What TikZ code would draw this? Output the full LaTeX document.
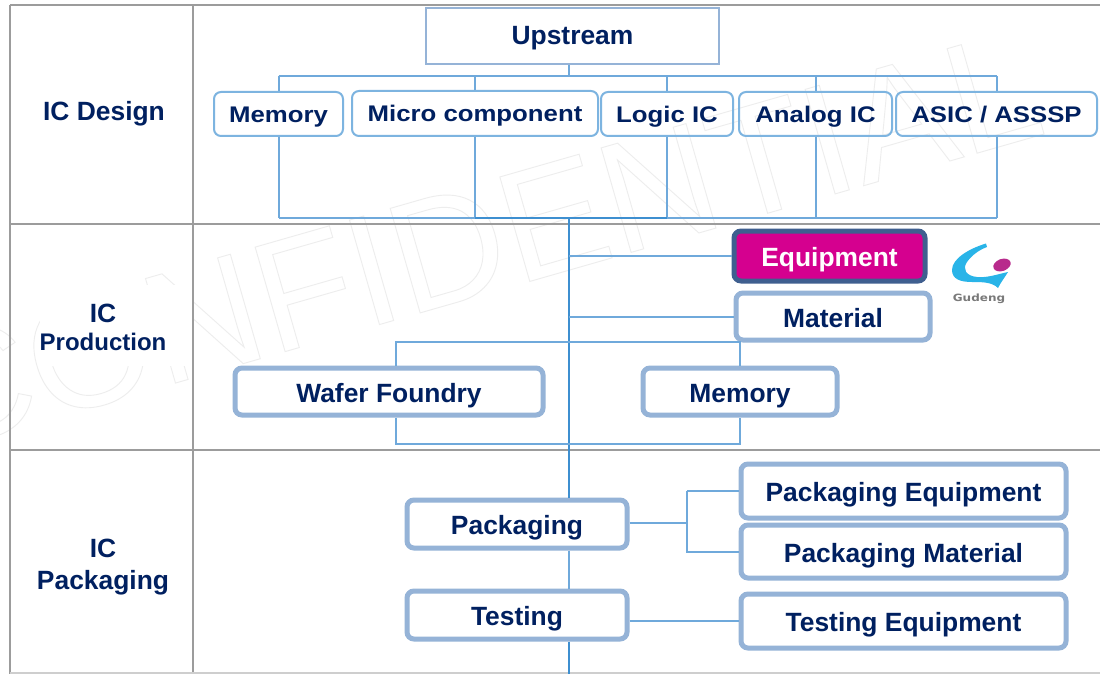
\documentclass[tikz,border=0pt]{standalone}
\usepackage{fontspec}
\setmainfont{Liberation Sans}
\newfontfamily\stretchfont[FakeStretch=1.14]{Liberation Sans}
\newfontfamily\logofont[FakeStretch=1.2]{DejaVu Sans}
\definecolor{navytext}{HTML}{002060}
\definecolor{gridgray}{HTML}{9C9C9C}
\definecolor{linkblue}{HTML}{6FA9DB}
\definecolor{linkdark}{HTML}{3E8FD0}
\definecolor{smallblue}{HTML}{7DB4E0}
\definecolor{bigblue}{HTML}{95B3D7}
\definecolor{equipfill}{HTML}{D5008F}
\definecolor{equipedge}{HTML}{3F5F8F}
\definecolor{wmgray}{HTML}{EDEDED}
\definecolor{logoblue}{HTML}{29B4E8}
\definecolor{logomag}{HTML}{B82A8C}
\definecolor{logogray}{HTML}{7A7A7A}
\tikzset{
    gridline/.style={draw=gridgray,line width=2.5pt},
    conn/.style={draw=linkblue,line width=2pt},
    conndark/.style={draw=linkdark,line width=2pt},
    bigbox/.style={draw=bigblue,fill=white,line width=5pt,rounded corners=7pt,inner sep=0pt,
        text=navytext,font=\bfseries\fontsize{26.4}{30}\selectfont,text height=21pt,text depth=0pt},
    smallbox/.style={draw=smallblue,line width=2pt,rounded corners=7pt,inner sep=0pt,
        text=navytext,font=\stretchfont\bfseries\fontsize{22.6}{26}\selectfont,text height=17pt,text depth=0pt},
    rowlabel/.style={text=navytext,font=\bfseries\fontsize{26.4}{32}\selectfont,align=center,inner sep=0pt},
}
\begin{document}
\begin{tikzpicture}[x=1pt,y=-1pt]
    \useasboundingbox (0,0) rectangle (1100,674);
    \fill[white] (0,0) rectangle (1100,674);

    % watermark
    \node[anchor=base west,rotate=16,inner sep=0pt,text=wmgray,font=\fontsize{158}{160}\selectfont] (stamp) at (-65,452)
        {\special{pdf:code 1 Tr 0.9 w}CONFIDENTIAL\special{pdf:code 0 Tr}};
    \fill[white] (40,285) rectangle (192,366);

    % grid
    \draw[gridline] (10,5) -- (10,674);
    \draw[gridline] (193,5) -- (193,674);
    \draw[gridline] (10,5) -- (1100,5);
    \draw[gridline] (10,224) -- (1100,224);
    \draw[gridline] (10,450) -- (1100,450);
    \draw[gridline,gridgray!50] (10,673) -- (1100,673);

    \node[rowlabel] (rowDesign) at (104,114) {IC Design};
    \node[rowlabel] (rowFab) at (103,327) {IC\\[-4pt]{\fontsize{24}{26}\selectfont Production}};
    \node[rowlabel] (rowPack) at (103,567) {IC\\Packaging};

    % coordinates of the connector ends
    \coordinate (busTop) at (568.5,76);
    \coordinate (busBot) at (568.5,218);
    \coordinate (trunkEnd) at (568.5,674);
    \coordinate (fabTop) at (396,342);
    \coordinate (fabBot) at (396,444);
    \coordinate (packFork) at (687,523);

    % boxes
    \node[draw=bigblue,fill=white,line width=2.5pt,inner sep=0pt,minimum width=293pt,minimum height=56pt,
        text=navytext,font=\bfseries\fontsize{26.4}{30}\selectfont,text height=18pt,text depth=0pt] (upstream) at (572.5,36) {Upstream};

    \node[smallbox,minimum width=129pt,minimum height=44pt] (memA) at (278.5,114) {Memory};
    \node[smallbox,minimum width=246pt,minimum height=45pt] (micro) at (475,113.5) {Micro component};
    \node[smallbox,minimum width=132pt,minimum height=44pt] (logicic) at (667,114) {Logic IC};
    \node[smallbox,minimum width=153pt,minimum height=44pt] (analog) at (815.5,114) {Analog IC};
    \node[smallbox,minimum width=201pt,minimum height=44pt] (asic) at (996.5,114) {ASIC / ASSSP};

    \node[bigbox,draw=equipedge,fill=equipfill,text=white,minimum width=191pt,minimum height=50pt] (equip) at (829.5,256) {Equipment};
    \node[bigbox,minimum width=194pt,minimum height=47pt] (material) at (833,316.5) {Material};
    \node[bigbox,minimum width=308pt,minimum height=47pt] (wafer) at (389,391.5) {Wafer Foundry};
    \node[bigbox,minimum width=194pt,minimum height=47pt] (memB) at (740,391.5) {Memory};
    \node[bigbox,minimum width=220pt,minimum height=48pt] (packaging) at (517,524) {Packaging};
    \node[bigbox,minimum width=220pt,minimum height=48pt] (testing) at (517,615) {Testing};
    \node[bigbox,minimum width=325pt,minimum height=54pt] (packEq) at (903.5,491) {Packaging Equipment};
    \node[bigbox,minimum width=325pt,minimum height=53pt] (packMat) at (903.5,551.5) {Packaging Material};
    \node[bigbox,minimum width=325pt,minimum height=54pt] (testEq) at (903.5,621) {Testing Equipment};

    % logo
    \fill[logoblue] (986,243.5) .. controls (968,249) and (952,259) .. (952,270)
        .. controls (952,279) and (960,282) .. (972,282) .. controls (982,282) and (992,282) .. (998,288)
        .. controls (1001,282) and (1005,277) .. (1008,272) .. controls (998,274) and (988,278) .. (977,277)
        .. controls (966,276) and (962,269) .. (967,262) .. controls (972,255) and (979,250) .. (987,247) -- cycle;
    \fill[logomag,rotate around={20:(1002,265)}] (1002,265) ellipse (9pt and 6pt);
    \node[inner sep=0pt,text=logogray,font=\logofont\bfseries\fontsize{10}{12}\selectfont] (logotext) at (979,299) {Gudeng};

    % connectors
    \draw[conn] (upstream.south -| busTop) -- (busTop);
    \draw[conn] (memA.north |- busTop) -- (asic.north |- busTop);
    \foreach \n in {memA,micro,logicic,analog,asic} {
        \draw[conn] (\n.north) -- (\n.north |- busTop);
        \draw[conn] (\n.south) -- (\n.south |- busBot);
    }
    \draw[conn] (memA.south |- busBot) -- (asic.south |- busBot);
    \draw[conndark] (micro.south |- busBot) -- (logicic.south |- busBot);

    \draw[conndark] (busBot) -- (packaging.north -| busBot);
    \draw[conn] (packaging.south -| busBot) -- (testing.north -| busBot);
    \draw[conndark] (testing.south -| busBot) -- (trunkEnd);
    \draw[conn] (busBot |- equip.west) -- (equip.west);
    \draw[conn] (busBot |- material.west) -- (material.west);

    \draw[conn] (wafer.north -| fabTop) -- (fabTop) -- (fabTop -| memB.north) -- (memB.north);
    \draw[conn] (wafer.south -| fabBot) -- (fabBot) -- (fabBot -| memB.south) -- (memB.south);

    \draw[conn] (packaging.east |- packFork) -- (packFork);
    \draw[conn] (packEq.west -| packFork) -- (packEq.west);
    \draw[conn] (packEq.west -| packFork) -- (packMat.west -| packFork) -- (packMat.west);
    \draw[conn] (testing.east |- testEq.west) -- (testEq.west);
\end{tikzpicture}
\end{document}
